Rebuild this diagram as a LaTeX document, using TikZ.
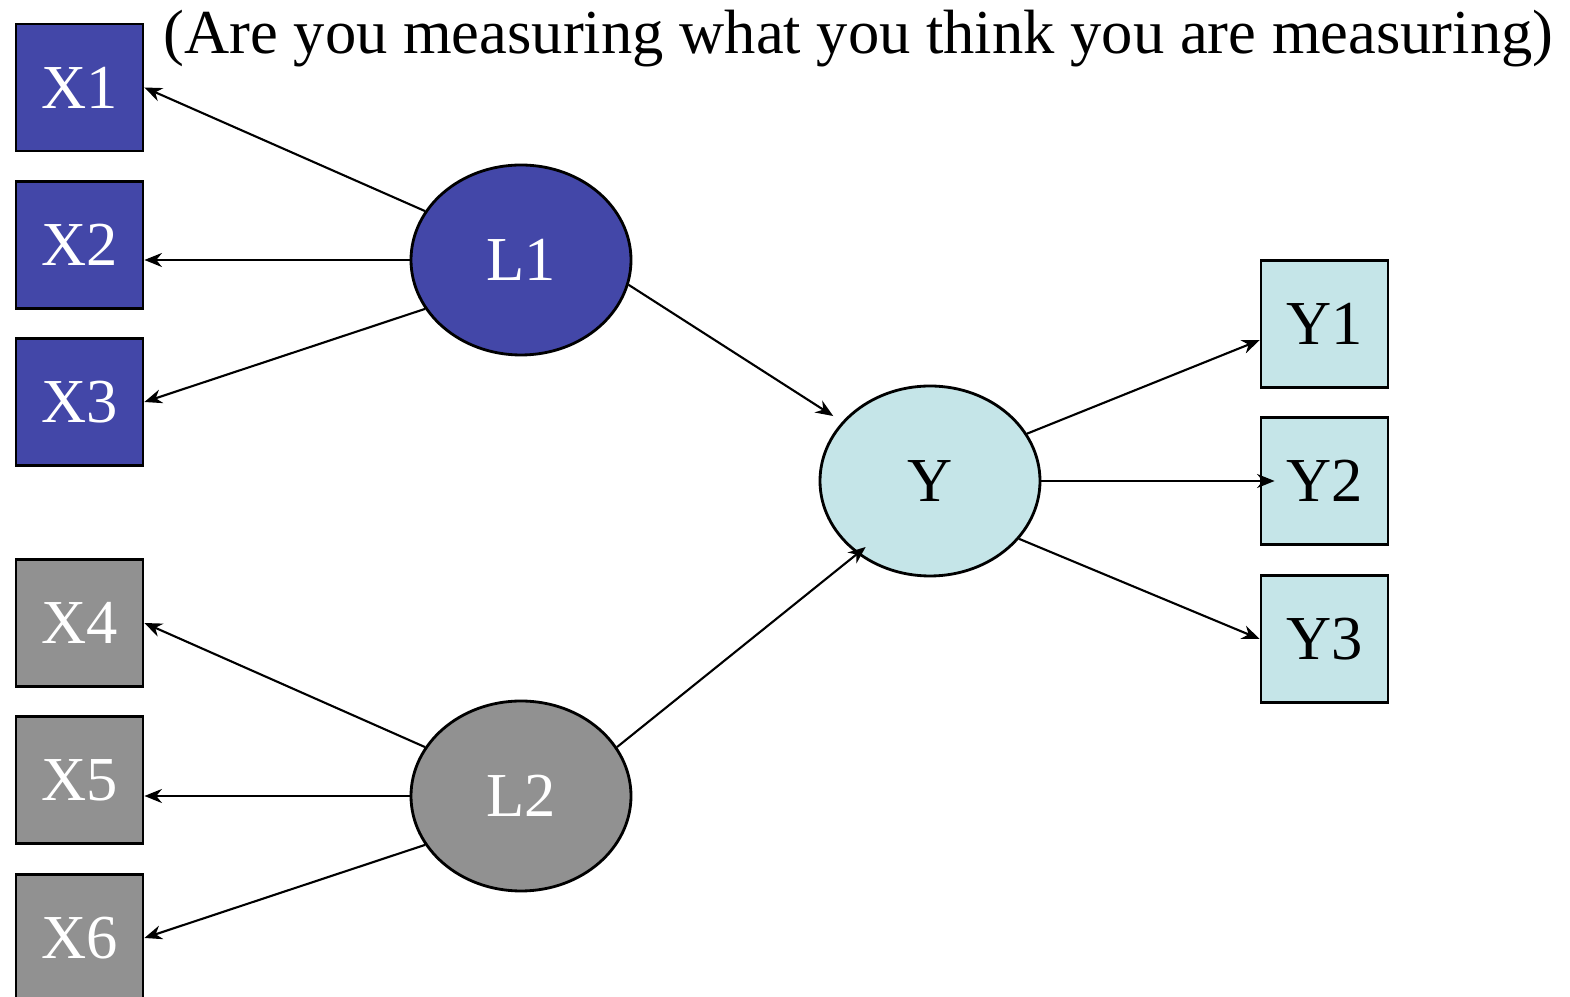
\documentclass[tikz,border=0pt]{standalone}
\usepackage{fontspec}
\setmainfont{Liberation Serif}
\usepackage{xcolor}
\usetikzlibrary{arrows.meta, positioning, shapes.geometric}

\definecolor{latblue}{RGB}{67,71,168}
\definecolor{latgray}{RGB}{145,145,145}
\definecolor{outcyan}{RGB}{197,229,232}

\begin{document}
\begin{tikzpicture}[
  ind/.style={draw=black, line width=0.8pt, minimum size=1.27cm, inner sep=0pt, font=\fontsize{17.8}{21}\selectfont},
  lat/.style={draw=black, line width=0.8pt, ellipse, minimum width=2.2cm, minimum height=1.9cm, inner sep=0pt, font=\fontsize{17.8}{21}\selectfont},
  path/.style={-{Stealth[length=5pt, width=4pt]}, line width=0.6pt}
]
  \useasboundingbox (0,0) rectangle (15.7,-9.97);
  % title
  \node[anchor=base, font=\fontsize{17.8}{21}\selectfont] (title) at (8.585,-0.54) {(Are you measuring what you think you are measuring)};
  % latent variables
  \node[lat, fill=latblue, text=white] (L1) at (5.21,-2.60) {L1};
  \node[lat, fill=latgray, text=white] (L2) at (5.21,-7.96) {L2};
  \node[lat, fill=outcyan] (Y) at (9.30,-4.81) {Y};
  % indicators of L1
  \node[ind, fill=latblue, text=white] (X1) at (0.795,-0.875) {X1};
  \node[ind, fill=latblue, text=white] (X2) at (0.795,-2.45) {X2};
  \node[ind, fill=latblue, text=white] (X3) at (0.795,-4.02) {X3};
  % indicators of L2
  \node[ind, fill=latgray, text=white] (X4) at (0.795,-6.23) {X4};
  \node[ind, fill=latgray, text=white] (X5) at (0.795,-7.80) {X5};
  \node[ind, fill=latgray, text=white] (X6) at (0.795,-9.38) {X6};
  % indicators of Y
  \node[ind, fill=outcyan] (Y1) at (13.245,-3.24) {Y1};
  \node[ind, fill=outcyan] (Y2) at (13.245,-4.81) {Y2};
  \node[ind, fill=outcyan] (Y3) at (13.245,-6.39) {Y3};
  % loadings
  \draw[path] (L1.153) -- (X1.east);
  \draw[path] (L1.west) -- (L1.west -| X2.east);
  \draw[path] (L1.207) -- (X3.east);
  \draw[path] (L2.153) -- (X4.east);
  \draw[path] (L2.west) -- (L2.west -| X5.east);
  \draw[path] (L2.207) -- (X6.east);
  % structural paths
  \draw[path, shorten >=3pt] (L1.-13) -- (Y.146);
  \draw[path, shorten >=-0.11cm] (L2.27) -- (Y.225);
  % outcome indicators
  \draw[path] (Y.26) -- (Y1.194);
  \draw[path, shorten >=-0.15cm] (Y.east) -- (Y2.west);
  \draw[path] (Y.-33) -- (Y3.west);
\end{tikzpicture}
\end{document}
